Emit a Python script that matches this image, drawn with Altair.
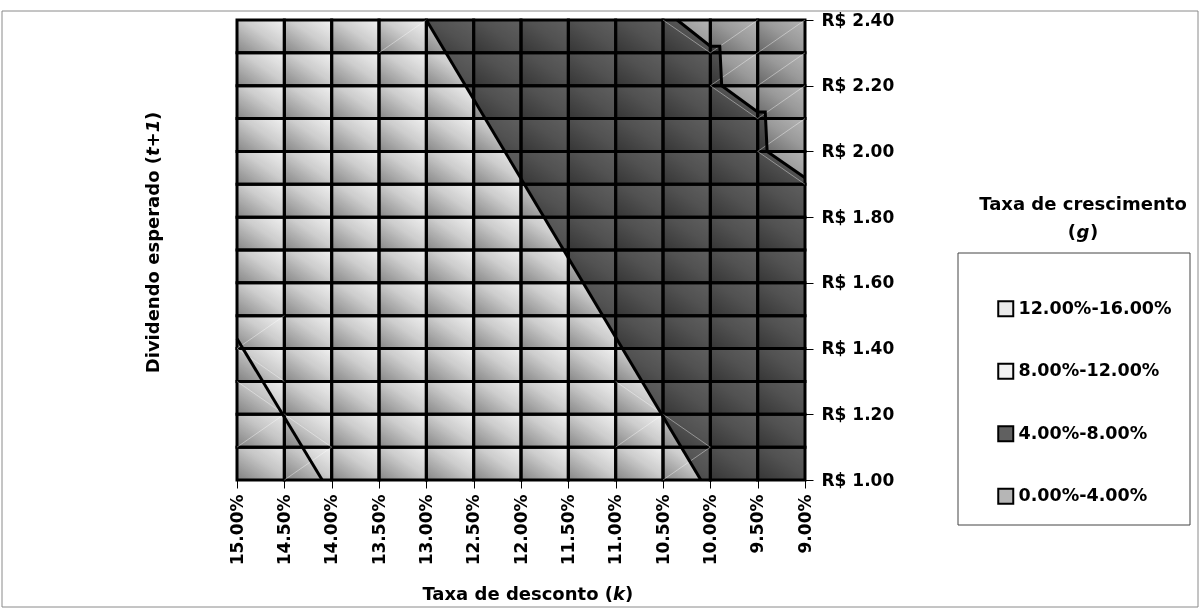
import altair as alt
import pandas as pd

# Surface grid: discount rate k (columns) and expected dividend D(t+1) (rows)
taxa_k = [0.150, 0.145, 0.140, 0.135, 0.130, 0.125, 0.120,
          0.115, 0.110, 0.105, 0.100, 0.095, 0.090]
dividendo = [1.00, 1.10, 1.20, 1.30, 1.40, 1.50, 1.60, 1.70,
             1.80, 1.90, 2.00, 2.10, 2.20, 2.30, 2.40]
dividendo_ticks = [1.00, 1.20, 1.40, 1.60, 1.80, 2.00, 2.20, 2.40]

# Growth-rate bands and their (lightest) colours
faixas = ["12.00%-16.00%", "8.00%-12.00%", "4.00%-8.00%", "0.00%-4.00%"]
cores = ["#e9e9e9", "#f2f2f2", "#606060", "#b6b6b6"]

# Contour boundaries between bands (k, dividend)
limite_12_k = [0.150, 0.141]
limite_12_d = [1.43, 1.00]
limite_8_k = [0.130, 0.101]
limite_8_d = [2.40, 1.00]
limite_4_k = [0.1035, 0.1000, 0.0990, 0.0988, 0.0950, 0.0942, 0.0940, 0.0900]
limite_4_d = [2.40, 2.32, 2.32, 2.20, 2.12, 2.12, 2.00, 1.92]

# Triangulation seams inside the cells the contours cross:
# lower-left k/D corner of the cell and direction ("/" rising, "\" falling)
seam_k = [0.135, 0.105, 0.100, 0.100, 0.095, 0.095, 0.100, 0.095, 0.095, 0.095,
          0.150, 0.150, 0.150, 0.150, 0.145, 0.145, 0.110, 0.110, 0.105, 0.105]
seam_d = [2.30, 2.30, 2.30, 2.20, 2.30, 2.20, 2.10, 2.10, 2.00, 1.90,
          1.40, 1.30, 1.20, 1.10, 1.10, 1.00, 1.20, 1.10, 1.10, 1.00]
seam_dir = ["/", "\\", "/", "/", "/", "/", "\\", "/", "/", "\\",
            "/", "\\", "\\", "/", "\\", "/", "\\", "/", "\\", "/"]

K_MIN, K_MAX = taxa_k[-1], taxa_k[0]
D_MIN, D_MAX = dividendo[0], dividendo[-1]
PASSO_K = taxa_k[0] - taxa_k[1]
PASSO_D = dividendo[1] - dividendo[0]

FONTE = "DejaVu Sans"

xscale = alt.Scale(domain=[K_MIN, K_MAX], reverse=True, nice=False, zero=False)
yscale = alt.Scale(domain=[D_MIN, D_MAX], nice=False, zero=False)
cscale = alt.Scale(domain=faixas, range=cores)

eixo_x = alt.Axis(
    values=taxa_k, format=".2%", labelAngle=270, labelAlign="right",
    labelBaseline="middle", labelOverlap=False, labelFlush=False,
    tickSize=8, tickColor="black", tickWidth=1, domain=False, grid=False,
    labelPadding=6, title=None, labelFont=FONTE, labelFontWeight="bold",
    labelFontSize=17, labelColor="black",
)
eixo_y = alt.Axis(
    orient="right", values=dividendo_ticks,
    labelExpr="'R$ ' + format(datum.value, '.2f')",
    tickSize=8, tickColor="black", tickWidth=1, domain=False, grid=False,
    labelPadding=8, title=None, labelFont=FONTE, labelFontWeight="bold",
    labelFontSize=17, labelColor="black", labelOverlap=False, labelFlush=False,
)

legenda = alt.Legend(
    orient="none", legendX=760, legendY=280, title=None,
    symbolType="square", symbolSize=225, symbolStrokeColor="black",
    symbolStrokeWidth=2, symbolOpacity=1, padding=0,
    labelFont=FONTE, labelFontWeight="bold", labelFontSize=17.5,
    labelColor="black", labelOffset=4, rowPadding=38.5, labelLimit=300,
)


def regiao(ks, ds, base, faixa):
    df = pd.DataFrame({"k": ks, "d": ds})
    df["d2"] = base
    df["faixa"] = faixa
    return alt.Chart(df).mark_area(orient="vertical", opacity=1, interpolate="linear").encode(
        x=alt.X("k:Q", scale=xscale, axis=eixo_x),
        y=alt.Y("d:Q", scale=yscale, axis=eixo_y, stack=None),
        y2="d2:Q",
        color=alt.Color("faixa:N", scale=cscale, legend=legenda),
    )


# Band regions, drawn from the back to the front
fundo = regiao([K_MAX, K_MIN], [D_MIN, D_MIN], D_MAX, faixas[1])
faixa_alta = regiao(limite_12_k, limite_12_d, D_MIN, faixas[0])
faixa_media = regiao(limite_8_k + [K_MIN], limite_8_d + [D_MIN], D_MAX, faixas[2])
faixa_baixa = regiao(limite_4_k, limite_4_d, D_MAX, faixas[3])

# Cells of the grid, each with its own shaded gradient
celulas = pd.DataFrame([
    {"k1": taxa_k[i], "k2": taxa_k[i + 1], "d1": dividendo[j], "d2": dividendo[j + 1]}
    for i in range(len(taxa_k) - 1) for j in range(len(dividendo) - 1)
])

gradiente = alt.Gradient(
    gradient="linear",
    stops=[alt.GradientStop(color="#8c8c8c", offset=0),
           alt.GradientStop(color="#d8d8d8", offset=0.55),
           alt.GradientStop(color="#ffffff", offset=1)],
    x1=0, y1=1, x2=1, y2=0,
)

grade = alt.Chart(celulas).mark_rect(
    fill=gradiente, blend="multiply", stroke="black", strokeWidth=3
).encode(
    x=alt.X("k1:Q", scale=xscale, axis=eixo_x),
    x2="k2:Q",
    y=alt.Y("d1:Q", scale=yscale, axis=eixo_y),
    y2="d2:Q",
)

# Faint seams across the split cells
seams_df = pd.DataFrame({"k1": seam_k, "d0": seam_d, "dir": seam_dir})
seams_df["k2"] = seams_df["k1"] - PASSO_K
seams_df["da"] = [d if s == "/" else d + PASSO_D for d, s in zip(seam_d, seam_dir)]
seams_df["db"] = [d + PASSO_D if s == "/" else d for d, s in zip(seam_d, seam_dir)]

seams = alt.Chart(seams_df).mark_rule(color="white", strokeWidth=1, opacity=0.4).encode(
    x=alt.X("k1:Q", scale=xscale, axis=eixo_x),
    x2="k2:Q",
    y=alt.Y("da:Q", scale=yscale, axis=eixo_y),
    y2="db:Q",
)

# Contour lines
linhas_df = pd.concat([
    pd.DataFrame({"k": limite_12_k, "d": limite_12_d, "linha": "12%"}),
    pd.DataFrame({"k": limite_8_k, "d": limite_8_d, "linha": "8%"}),
    pd.DataFrame({"k": limite_4_k, "d": limite_4_d, "linha": "4%"}),
], ignore_index=True)
linhas_df["ordem"] = range(len(linhas_df))

linhas = alt.Chart(linhas_df).mark_line(color="black", strokeWidth=3).encode(
    x=alt.X("k:Q", scale=xscale, axis=eixo_x),
    y=alt.Y("d:Q", scale=yscale, axis=eixo_y),
    detail="linha:N",
    order="ordem:Q",
)


def texto(t, x, y, angle=0, italic=False, size=18, align="center"):
    return alt.Chart(alt.Data(values=[{}])).mark_text(
        text=t, font=FONTE, fontWeight="bold", fontSize=size, align=align,
        baseline="middle", angle=angle, color="black",
        fontStyle="italic" if italic else "normal",
    ).encode(x=alt.value(x), y=alt.value(y))


def caixa(x1, y1, x2, y2, cor, largura=1):
    return alt.Chart(alt.Data(values=[{}])).mark_rect(
        fill=None, stroke=cor, strokeWidth=largura
    ).encode(x=alt.value(x1), x2=alt.value(x2), y=alt.value(y1), y2=alt.value(y2))


titulos = [
    # x axis title: "Taxa de desconto (k)"
    texto("Taxa de desconto (", 376, 575, align="right"),
    texto("k", 376, 575, italic=True, align="left"),
    texto(")", 388, 575, align="left"),
    # y axis title: "Dividendo esperado (t+1)"
    texto("Dividendo esperado (", -83, 136, angle=270, align="right"),
    texto("t+1", -83, 136, angle=270, italic=True, align="left"),
    texto(")", -83, 100, angle=270, align="left"),
    # legend title
    texto("Taxa de crescimento", 846, 185),
    texto("(", 839, 213, align="right"),
    texto("g", 846, 213, italic=True),
    texto(")", 853, 213, align="left"),
]

moldura = caixa(-235, -9, 961, 587, "#8a8a8a")
caixa_legenda = caixa(721, 233, 953, 505, "#444444")

chart = alt.layer(
    fundo, faixa_alta, faixa_media, faixa_baixa, grade, seams, linhas,
    moldura, caixa_legenda, *titulos
).properties(
    width=568, height=460,
    autosize=alt.AutoSizeParams(type="none"),
    padding={"left": 237, "top": 20, "right": 396, "bottom": 130},
).configure_view(stroke=None)

chart.save("out.html", embed_options={"renderer": "svg", "actions": False})
